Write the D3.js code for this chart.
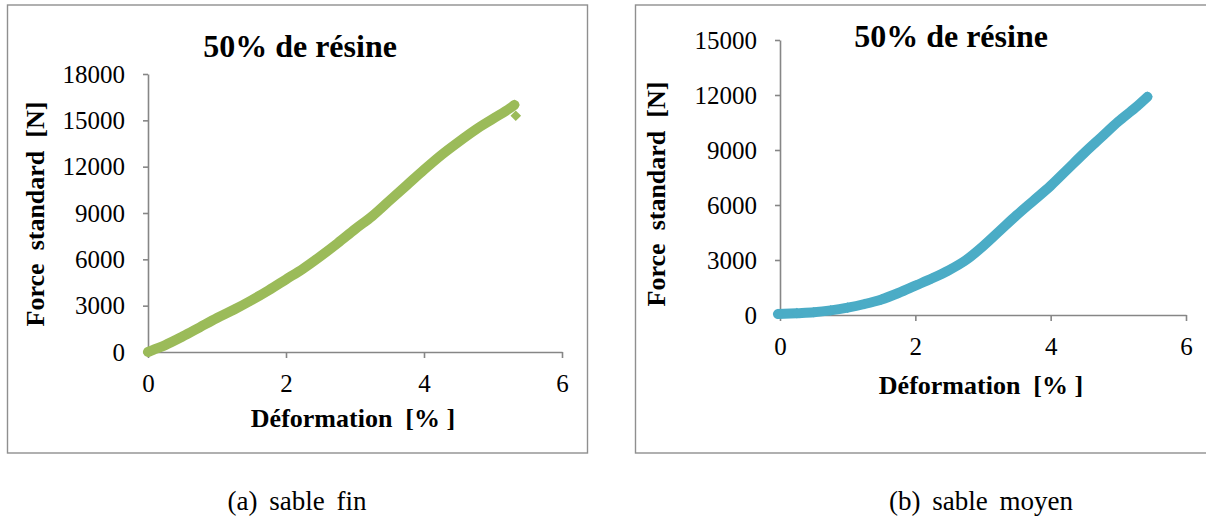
<!DOCTYPE html>
<html><head><meta charset="utf-8">
<script src="https://cdn.jsdelivr.net/npm/d3@7"></script>
<style>
body{margin:0;background:#fff;}
svg{display:block;font-family:"Liberation Serif","Times New Roman",serif;}
</style></head>
<body><svg id="c" width="1206" height="519"></svg>
<script>
// ---- data ----
const titleText = "50% de résine";
const xLabel = "Déformation  [% ]";
const yLabel = "Force  standard  [N]";
const captions = ["(a) sable fin", "(b) sable moyen"];
const xTicks = [0, 2, 4, 6];
const yTicksA = [0, 3000, 6000, 9000, 12000, 15000, 18000];
const yTicksB = [0, 3000, 6000, 9000, 12000, 15000];

const strainA = [0, 0.1, 0.25, 0.5, 0.75, 1, 1.25, 1.5, 1.75, 2, 2.25, 2.5, 2.75, 3, 3.25, 3.5, 3.75, 4, 4.25, 4.5, 4.75, 5, 5.25, 5.31];
const forceA  = [0, 180, 450, 1000, 1600, 2200, 2750, 3350, 4000, 4700, 5400, 6200, 7050, 7950, 8800, 9800, 10800, 11800, 12750, 13600, 14400, 15100, 15800, 16000];
const outlierA = [[5.33, 15300]];

const strainB = [-0.03, 0.25, 0.5, 0.75, 1, 1.25, 1.5, 1.75, 2, 2.25, 2.5, 2.75, 3, 3.25, 3.5, 3.75, 4, 4.25, 4.5, 4.75, 5, 5.25, 5.43];
const forceB  = [50, 100, 150, 250, 400, 600, 850, 1200, 1600, 2000, 2450, 3000, 3750, 4600, 5450, 6250, 7050, 7950, 8850, 9700, 10550, 11300, 11900];

const svg = d3.select("#c");
const axisColor = "#868686";

function panel(cfg){
  const g = svg.append("g");
  g.append("rect").attr("x", cfg.box[0]).attr("y", cfg.box[1]).attr("width", cfg.box[2]).attr("height", cfg.box[3])
    .attr("fill", "none").attr("stroke", "#8f8f8f").attr("stroke-width", 1.4);

  const x = d3.scaleLinear().domain([0, 6]).range([cfg.x0, cfg.x1]);
  const y = d3.scaleLinear().domain([0, cfg.ymax]).range([cfg.y0, cfg.y1]);

  const xa = g.append("g").attr("transform", `translate(0,${cfg.y0})`)
    .call(d3.axisBottom(x).tickValues(xTicks).tickSize(6).tickSizeOuter(0).tickPadding(16).tickFormat(d3.format("d")));
  const ya = g.append("g").attr("transform", `translate(${cfg.x0},0)`)
    .call(d3.axisLeft(y).tickValues(cfg.yTicks).tickSize(5).tickSizeOuter(0).tickPadding(18).tickFormat(d3.format("d")));
  [xa, ya].forEach(a => {
    a.selectAll("path,line").attr("stroke", axisColor).attr("stroke-width", 1.6);
    a.selectAll("text").attr("fill", "#000").style("font-size", "25px").style("font-family", "Liberation Serif");
  });

  const pts = cfg.sx.map((v, i) => [v, cfg.sy[i]]);
  const line = d3.line().x(d => x(d[0])).y(d => y(d[1])).curve(d3.curveMonotoneX);
  g.append("path").datum(pts).attr("d", line).attr("fill", "none")
    .attr("stroke", cfg.color).attr("stroke-width", 10).attr("stroke-linecap", "round").attr("stroke-linejoin", "round");
  const sym = d3.symbol(d3.symbolSquare, 56);
  g.selectAll("path.m").data(pts.concat(cfg.extra || [])).join("path").attr("class", "m")
    .attr("d", sym).attr("fill", cfg.color)
    .attr("transform", d => `translate(${x(d[0])},${y(d[1])}) rotate(45)`);

  g.append("text").attr("x", cfg.title[0]).attr("y", cfg.title[1]).attr("text-anchor", "middle")
    .style("font-size", "32px").style("font-weight", "bold").text(titleText);
  g.append("text").attr("x", (cfg.x0 + cfg.x1) / 2 - 2).attr("y", cfg.xlabY).attr("text-anchor", "middle")
    .style("font-size", "26px").style("font-weight", "bold").style("white-space", "pre").text(xLabel);
  g.append("text").attr("transform", `translate(${cfg.ylab[0]},${cfg.ylab[1]}) rotate(-90)`).attr("text-anchor", "middle")
    .style("font-size", "26px").style("font-weight", "bold").style("white-space", "pre").text(yLabel);
  g.append("text").attr("x", cfg.cap[0]).attr("y", cfg.cap[1]).attr("text-anchor", "middle")
    .style("font-size", "27px").style("word-spacing", "5px").text(cfg.caption);
}

panel({box:[7.5, 5, 580, 448], x0:148, x1:562, y0:352, y1:74, ymax:18000, yTicks:yTicksA,
  sx:strainA, sy:forceA, extra:outlierA, color:"#9BBB59",
  title:[300, 57], xlabY:427, ylab:[44, 214], cap:[297, 510], caption:captions[0]});
panel({box:[635.5, 5, 600, 448], x0:780, x1:1186, y0:315, y1:40, ymax:15000, yTicks:yTicksB,
  sx:strainB, sy:forceB, color:"#4BACC6",
  title:[951, 47], xlabY:394, ylab:[665, 194], cap:[981, 510], caption:captions[1]});
</script>
</body></html>
